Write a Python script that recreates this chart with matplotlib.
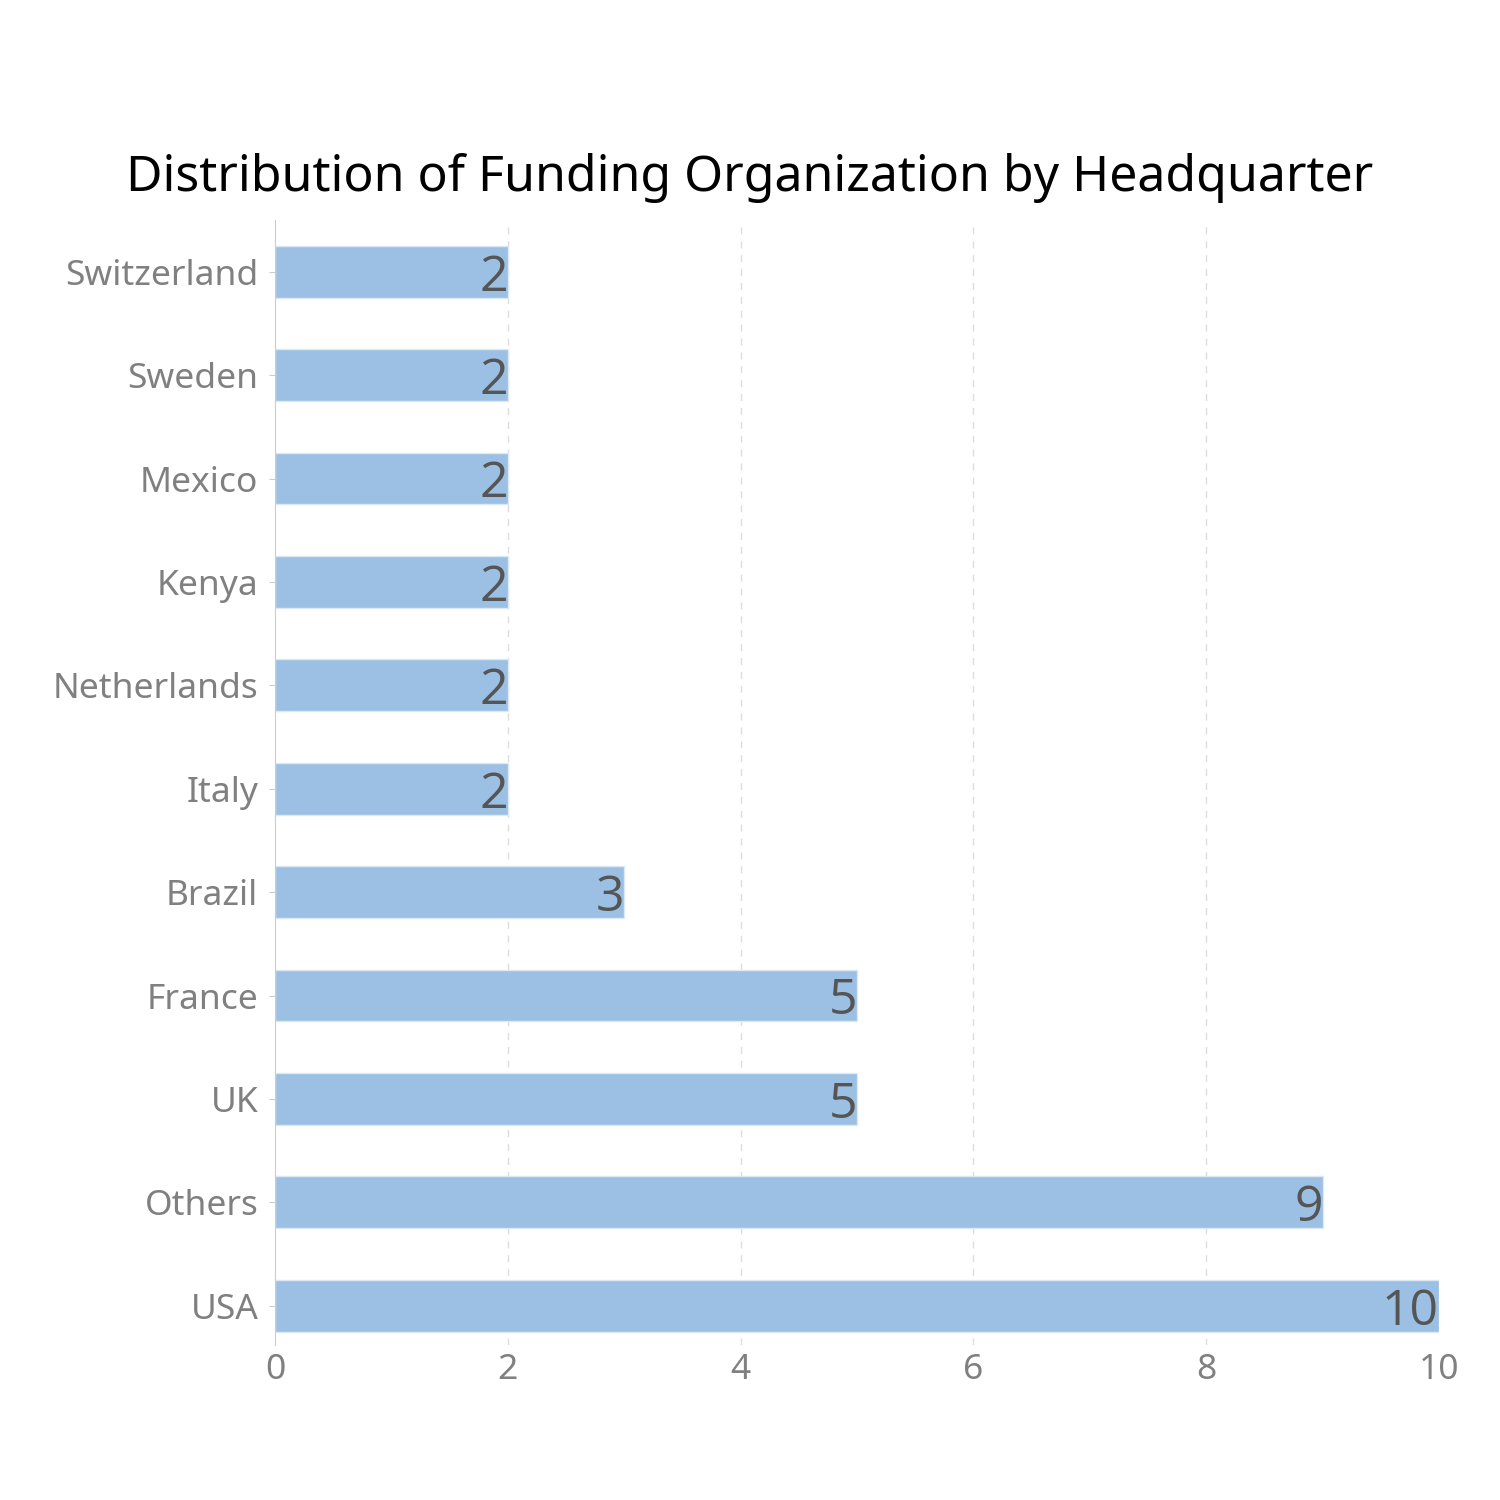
import matplotlib.pyplot as plt

countries = ['USA', 'Others', 'UK', 'France', 'Brazil', 'Italy', 'Netherlands',
             'Kenya', 'Mexico', 'Sweden', 'Switzerland']
counts = [10, 9, 5, 5, 3, 2, 2, 2, 2, 2, 2]
xticks = [0, 2, 4, 6, 8, 10]

fig = plt.figure(figsize=(15, 15), dpi=100)
# axes box: x 275..1439 px, y 220..1345 px
ax = fig.add_axes([275 / 1500, 155 / 1500, 1164 / 1500, 1125 / 1500])

ypos = range(len(countries))
ax.barh(ypos, counts, height=0.5, color='#9bc0e4', edgecolor='#dce8f4', linewidth=1, zorder=2)

for y, v in zip(ypos, counts):
    ax.text(v, y - 0.06, str(v), ha='right', va='center', fontsize=36,
            color='#555555', family='Open Sans', zorder=3)

ax.set_xlim(0, 10)
ax.set_ylim(-0.38, 10.5)
ax.set_xticks(xticks)
ax.set_yticks(list(ypos))
ax.set_yticklabels(countries)
ax.tick_params(axis='y', colors='#cccccc', labelcolor='#808080', labelsize=25.5, length=4, pad=8)
ax.tick_params(axis='x', length=0, labelcolor='#808080', labelsize=25.5, pad=6)
for lab in ax.get_xticklabels() + ax.get_yticklabels():
    lab.set_family('Noto Sans')

for x in xticks[1:-1]:
    ax.axvline(x, color='#dddddd', linestyle=(0, (5, 5)), linewidth=1, zorder=1)

for s in ['top', 'right', 'bottom']:
    ax.spines[s].set_visible(False)
ax.spines['left'].set_color('#cccccc')

fig.text(0.5, 1 - 178 / 1500, 'Distribution of Funding Organization by Headquarter',
         ha='center', va='center', fontsize=36, color='black', family='Noto Sans')

fig.savefig('out.png')
